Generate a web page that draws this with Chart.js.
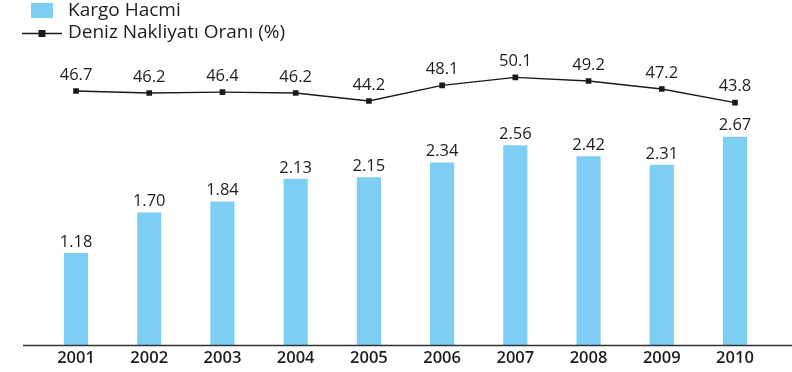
<!DOCTYPE html>
<html>
<head>
<meta charset="utf-8">
<script src="https://cdn.jsdelivr.net/npm/chart.js@4/dist/chart.umd.min.js"></script>
<style>
  html, body { margin: 0; padding: 0; background: #fff; }
  #wrap { width: 792px; height: 372px; position: relative; }
</style>
</head>
<body>
<div id="wrap"><canvas id="c" width="792" height="372"></canvas></div>
<script>
// Years shown along the bottom axis
const years = ['2001', '2002', '2003', '2004', '2005', '2006', '2007', '2008', '2009', '2010'];
// Cargo volume per year (bars)
const kargoHacmi = [1.18, 1.70, 1.84, 2.13, 2.15, 2.34, 2.56, 2.42, 2.31, 2.67];
// Share of maritime transport, percent (line)
const denizOrani = [46.7, 46.2, 46.4, 46.2, 44.2, 48.1, 50.1, 49.2, 47.2, 43.8];

const barLabel = 'Kargo Hacmi';
const lineLabel = 'Deniz Nakliyatı Oranı (%)';

const BAR_COLOR = '#7ecdf3';
const LINE_COLOR = '#1a1a1a';
const TEXT_COLOR = '#1e1e1e';
const FONT = '"Open Sans", "DejaVu Sans", sans-serif';

// Value labels above bars and line points, legend, and the baseline rule
const decorations = {
  id: 'decorations',
  afterDatasetsDraw(chart) {
    const ctx = chart.ctx;
    ctx.save();
    ctx.fillStyle = TEXT_COLOR;
    ctx.textAlign = 'center';
    ctx.textBaseline = 'middle';
    ctx.font = '16.5px ' + FONT;

    const barMeta = chart.getDatasetMeta(0);
    barMeta.data.forEach((el, i) => {
      ctx.fillText(kargoHacmi[i].toFixed(2), el.x, el.y - 11);
    });
    const lineMeta = chart.getDatasetMeta(1);
    lineMeta.data.forEach((el, i) => {
      ctx.fillText(denizOrani[i].toFixed(1), el.x, el.y - 16);
    });

    // baseline
    const yb = chart.scales.y.getPixelForValue(0);
    ctx.strokeStyle = '#333';
    ctx.lineWidth = 1.5;
    ctx.beginPath();
    ctx.moveTo(23, yb + 0.5);
    ctx.lineTo(792, yb + 0.5);
    ctx.stroke();

    // legend
    ctx.textAlign = 'left';
    ctx.font = '19px ' + FONT;
    ctx.fillStyle = BAR_COLOR;
    ctx.fillRect(31, 3, 22, 15);
    ctx.fillStyle = TEXT_COLOR;
    ctx.fillText(barLabel, 68, 11);

    ctx.strokeStyle = LINE_COLOR;
    ctx.lineWidth = 1.3;
    ctx.beginPath();
    ctx.moveTo(22, 33.5);
    ctx.lineTo(62, 33.5);
    ctx.stroke();
    ctx.fillStyle = LINE_COLOR;
    ctx.fillRect(38.5, 30, 7, 7);
    ctx.fillStyle = TEXT_COLOR;
    ctx.fillText(lineLabel, 68, 33);
    ctx.restore();
  }
};

new Chart(document.getElementById('c'), {
  type: 'bar',
  data: {
    labels: years,
    datasets: [
      {
        type: 'bar',
        label: barLabel,
        data: kargoHacmi,
        backgroundColor: BAR_COLOR,
        borderWidth: 0,
        barPercentage: 0.33,
        categoryPercentage: 1,
        yAxisID: 'y',
        order: 2
      },
      {
        type: 'line',
        label: lineLabel,
        data: denizOrani,
        borderColor: LINE_COLOR,
        borderWidth: 1.3,
        backgroundColor: LINE_COLOR,
        pointStyle: 'rect',
        pointRadius: 4,
        pointBorderWidth: 0,
        tension: 0,
        yAxisID: 'y2',
        order: 1
      }
    ]
  },
  options: {
    responsive: false,
    animation: false,
    devicePixelRatio: 1,
    layout: { padding: { left: 39.4, right: 20.4, top: 20, bottom: 0 } },
    plugins: {
      legend: { display: false },
      tooltip: { enabled: false }
    },
    scales: {
      x: {
        grid: { display: false, drawTicks: false },
        border: { display: false },
        ticks: {
          color: TEXT_COLOR,
          font: { family: FONT, size: 16.5, weight: '600' },
          padding: 3
        },
        afterFit: s => { s.height = 27; }
      },
      y: {
        display: false,
        min: 0,
        max: 4.1667
      },
      y2: {
        display: false,
        min: -16.8,
        max: 64.45
      }
    }
  },
  plugins: [decorations]
});
</script>
</body>
</html>
